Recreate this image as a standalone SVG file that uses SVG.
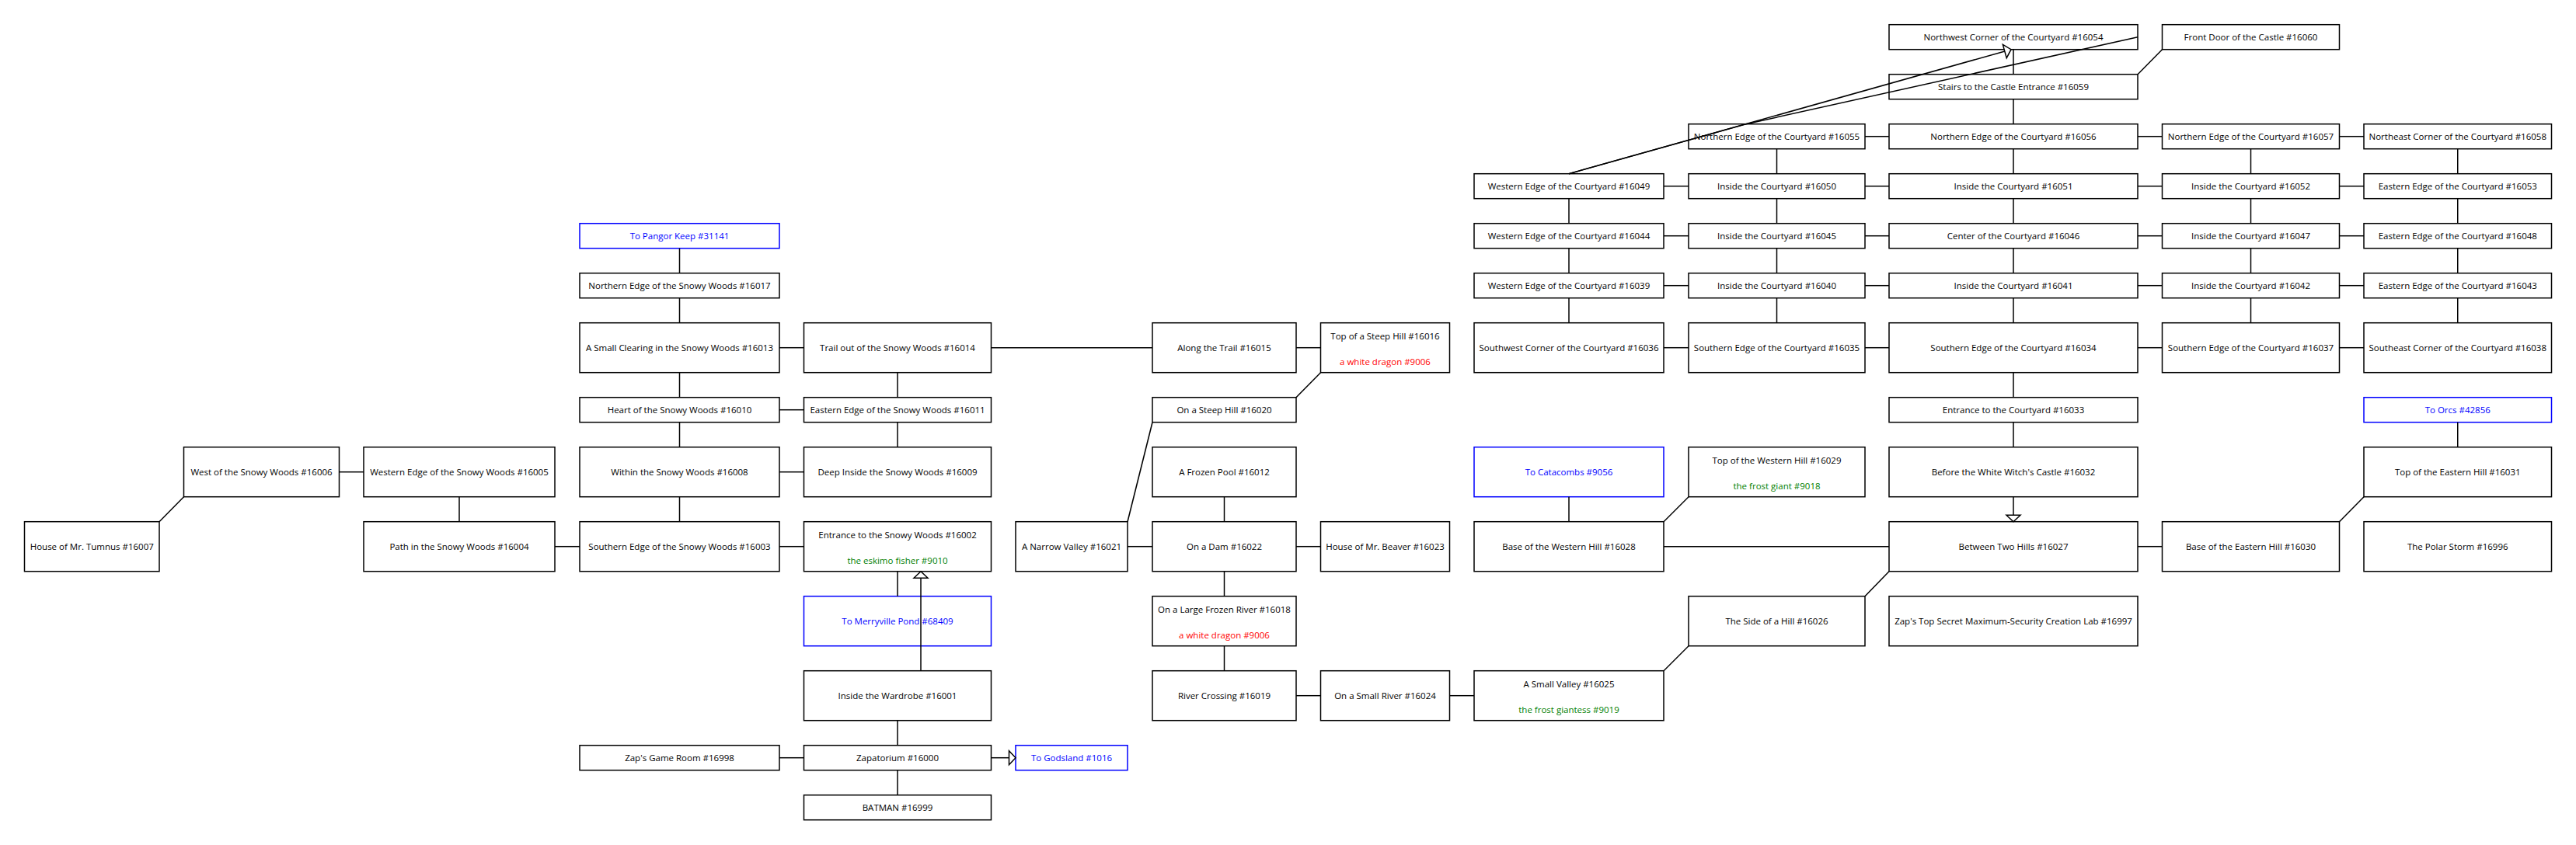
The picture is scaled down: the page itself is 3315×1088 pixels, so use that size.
<svg xmlns="http://www.w3.org/2000/svg" width="3315" height="1088" viewBox="0 0 3315 1088">
<defs>
<style>
rect{fill:#fff;stroke:#000;stroke-width:1.5}
.x rect{stroke:#0000ff}
text{font-family:"Open Sans","Noto Sans",sans-serif;font-size:11.5px;text-anchor:middle;fill:#000}
.x text{fill:#0000ff}
text.r{fill:#ff0000}
text.g{fill:#008000}
#edges line,#edges polyline{stroke:#000;stroke-width:1.5;fill:none}
</style>
<marker id="ah" markerUnits="userSpaceOnUse" markerWidth="12" markerHeight="22" refX="9.5" refY="10" orient="auto" overflow="visible">
<path d="M1,1 L9.5,10 L1,19 Z" fill="#fff" stroke="#000" stroke-width="1.5"/>
</marker>
</defs>
<rect x="0" y="0" width="3315" height="1088" style="stroke:none;fill:#fff"/>
<g id="n16007"><rect x="31.5" y="671.7" width="173.5" height="64"/><text x="118.25" y="707.7">House of Mr. Tumnus #16007</text></g>
<g id="n16006"><rect x="236.5" y="575.7" width="200" height="64"/><text x="336.5" y="611.7">West of the Snowy Woods #16006</text></g>
<g id="n16005"><rect x="468" y="575.7" width="246" height="64"/><text x="591" y="611.7">Western Edge of the Snowy Woods #16005</text></g>
<g id="n16004"><rect x="468" y="671.7" width="246" height="64"/><text x="591" y="707.7">Path in the Snowy Woods #16004</text></g>
<g id="x31141" class="x"><rect x="746" y="287.7" width="257" height="32"/><text x="874.5" y="307.7">To Pangor Keep #31141</text></g>
<g id="n16017"><rect x="746" y="351.7" width="257" height="32"/><text x="874.5" y="371.7">Northern Edge of the Snowy Woods #16017</text></g>
<g id="n16013"><rect x="746" y="415.7" width="257" height="64"/><text x="874.5" y="451.7">A Small Clearing in the Snowy Woods #16013</text></g>
<g id="n16010"><rect x="746" y="511.7" width="257" height="32"/><text x="874.5" y="531.7">Heart of the Snowy Woods #16010</text></g>
<g id="n16008"><rect x="746" y="575.7" width="257" height="64"/><text x="874.5" y="611.7">Within the Snowy Woods #16008</text></g>
<g id="n16003"><rect x="746" y="671.7" width="257" height="64"/><text x="874.5" y="707.7">Southern Edge of the Snowy Woods #16003</text></g>
<g id="n16998"><rect x="746" y="959.7" width="257" height="32"/><text x="874.5" y="979.7">Zap's Game Room #16998</text></g>
<g id="n16014"><rect x="1034.5" y="415.7" width="241" height="64"/><text x="1155" y="451.7">Trail out of the Snowy Woods #16014</text></g>
<g id="n16011"><rect x="1034.5" y="511.7" width="241" height="32"/><text x="1155" y="531.7">Eastern Edge of the Snowy Woods #16011</text></g>
<g id="n16009"><rect x="1034.5" y="575.7" width="241" height="64"/><text x="1155" y="611.7">Deep Inside the Snowy Woods #16009</text></g>
<g id="n16002"><rect x="1034.5" y="671.7" width="241" height="64"/><text x="1155" y="693.2">Entrance to the Snowy Woods #16002</text><text class="g" x="1155" y="726">the eskimo fisher #9010</text></g>
<g id="x68409" class="x"><rect x="1034.5" y="767.7" width="241" height="64"/><text x="1155" y="803.7">To Merryville Pond #68409</text></g>
<g id="n16001"><rect x="1034.5" y="863.7" width="241" height="64"/><text x="1155" y="899.7">Inside the Wardrobe #16001</text></g>
<g id="n16000"><rect x="1034.5" y="959.7" width="241" height="32"/><text x="1155" y="979.7">Zapatorium #16000</text></g>
<g id="n16999"><rect x="1034.5" y="1023.7" width="241" height="32"/><text x="1155" y="1043.7">BATMAN #16999</text></g>
<g id="n16021"><rect x="1307" y="671.7" width="144" height="64"/><text x="1379" y="707.7">A Narrow Valley #16021</text></g>
<g id="x1016" class="x"><rect x="1307" y="959.7" width="144" height="32"/><text x="1379" y="979.7">To Godsland #1016</text></g>
<g id="n16015"><rect x="1483" y="415.7" width="185" height="64"/><text x="1575.5" y="451.7">Along the Trail #16015</text></g>
<g id="n16020"><rect x="1483" y="511.7" width="185" height="32"/><text x="1575.5" y="531.7">On a Steep Hill #16020</text></g>
<g id="n16012"><rect x="1483" y="575.7" width="185" height="64"/><text x="1575.5" y="611.7">A Frozen Pool #16012</text></g>
<g id="n16022"><rect x="1483" y="671.7" width="185" height="64"/><text x="1575.5" y="707.7">On a Dam #16022</text></g>
<g id="n16018"><rect x="1483" y="767.7" width="185" height="64"/><text x="1575.5" y="789.2">On a Large Frozen River #16018</text><text class="r" x="1575.5" y="822">a white dragon #9006</text></g>
<g id="n16019"><rect x="1483" y="863.7" width="185" height="64"/><text x="1575.5" y="899.7">River Crossing #16019</text></g>
<g id="n16016"><rect x="1699.5" y="415.7" width="166" height="64"/><text x="1782.5" y="437.2">Top of a Steep Hill #16016</text><text class="r" x="1782.5" y="470">a white dragon #9006</text></g>
<g id="n16023"><rect x="1699.5" y="671.7" width="166" height="64"/><text x="1782.5" y="707.7">House of Mr. Beaver #16023</text></g>
<g id="n16024"><rect x="1699.5" y="863.7" width="166" height="64"/><text x="1782.5" y="899.7">On a Small River #16024</text></g>
<g id="n16049"><rect x="1897" y="223.7" width="244" height="32"/><text x="2019" y="243.7">Western Edge of the Courtyard #16049</text></g>
<g id="n16044"><rect x="1897" y="287.7" width="244" height="32"/><text x="2019" y="307.7">Western Edge of the Courtyard #16044</text></g>
<g id="n16039"><rect x="1897" y="351.7" width="244" height="32"/><text x="2019" y="371.7">Western Edge of the Courtyard #16039</text></g>
<g id="n16036"><rect x="1897" y="415.7" width="244" height="64"/><text x="2019" y="451.7">Southwest Corner of the Courtyard #16036</text></g>
<g id="x9056" class="x"><rect x="1897" y="575.7" width="244" height="64"/><text x="2019" y="611.7">To Catacombs #9056</text></g>
<g id="n16028"><rect x="1897" y="671.7" width="244" height="64"/><text x="2019" y="707.7">Base of the Western Hill #16028</text></g>
<g id="n16025"><rect x="1897" y="863.7" width="244" height="64"/><text x="2019" y="885.2">A Small Valley #16025</text><text class="g" x="2019" y="918">the frost giantess #9019</text></g>
<g id="n16055"><rect x="2173" y="159.7" width="227" height="32"/><text x="2286.5" y="179.7">Northern Edge of the Courtyard #16055</text></g>
<g id="n16050"><rect x="2173" y="223.7" width="227" height="32"/><text x="2286.5" y="243.7">Inside the Courtyard #16050</text></g>
<g id="n16045"><rect x="2173" y="287.7" width="227" height="32"/><text x="2286.5" y="307.7">Inside the Courtyard #16045</text></g>
<g id="n16040"><rect x="2173" y="351.7" width="227" height="32"/><text x="2286.5" y="371.7">Inside the Courtyard #16040</text></g>
<g id="n16035"><rect x="2173" y="415.7" width="227" height="64"/><text x="2286.5" y="451.7">Southern Edge of the Courtyard #16035</text></g>
<g id="n16029"><rect x="2173" y="575.7" width="227" height="64"/><text x="2286.5" y="597.2">Top of the Western Hill #16029</text><text class="g" x="2286.5" y="630">the frost giant #9018</text></g>
<g id="n16026"><rect x="2173" y="767.7" width="227" height="64"/><text x="2286.5" y="803.7">The Side of a Hill #16026</text></g>
<g id="n16054"><rect x="2431" y="31.7" width="320" height="32"/><text x="2591" y="51.7">Northwest Corner of the Courtyard #16054</text></g>
<g id="n16059"><rect x="2431" y="95.7" width="320" height="32"/><text x="2591" y="115.7">Stairs to the Castle Entrance #16059</text></g>
<g id="n16056"><rect x="2431" y="159.7" width="320" height="32"/><text x="2591" y="179.7">Northern Edge of the Courtyard #16056</text></g>
<g id="n16051"><rect x="2431" y="223.7" width="320" height="32"/><text x="2591" y="243.7">Inside the Courtyard #16051</text></g>
<g id="n16046"><rect x="2431" y="287.7" width="320" height="32"/><text x="2591" y="307.7">Center of the Courtyard #16046</text></g>
<g id="n16041"><rect x="2431" y="351.7" width="320" height="32"/><text x="2591" y="371.7">Inside the Courtyard #16041</text></g>
<g id="n16034"><rect x="2431" y="415.7" width="320" height="64"/><text x="2591" y="451.7">Southern Edge of the Courtyard #16034</text></g>
<g id="n16033"><rect x="2431" y="511.7" width="320" height="32"/><text x="2591" y="531.7">Entrance to the Courtyard #16033</text></g>
<g id="n16032"><rect x="2431" y="575.7" width="320" height="64"/><text x="2591" y="611.7">Before the White Witch's Castle #16032</text></g>
<g id="n16027"><rect x="2431" y="671.7" width="320" height="64"/><text x="2591" y="707.7">Between Two Hills #16027</text></g>
<g id="n16997"><rect x="2431" y="767.7" width="320" height="64"/><text x="2591" y="803.7">Zap's Top Secret Maximum-Security Creation Lab #16997</text></g>
<g id="n16060"><rect x="2782.5" y="31.7" width="228" height="32"/><text x="2896.5" y="51.7">Front Door of the Castle #16060</text></g>
<g id="n16057"><rect x="2782.5" y="159.7" width="228" height="32"/><text x="2896.5" y="179.7">Northern Edge of the Courtyard #16057</text></g>
<g id="n16052"><rect x="2782.5" y="223.7" width="228" height="32"/><text x="2896.5" y="243.7">Inside the Courtyard #16052</text></g>
<g id="n16047"><rect x="2782.5" y="287.7" width="228" height="32"/><text x="2896.5" y="307.7">Inside the Courtyard #16047</text></g>
<g id="n16042"><rect x="2782.5" y="351.7" width="228" height="32"/><text x="2896.5" y="371.7">Inside the Courtyard #16042</text></g>
<g id="n16037"><rect x="2782.5" y="415.7" width="228" height="64"/><text x="2896.5" y="451.7">Southern Edge of the Courtyard #16037</text></g>
<g id="n16030"><rect x="2782.5" y="671.7" width="228" height="64"/><text x="2896.5" y="707.7">Base of the Eastern Hill #16030</text></g>
<g id="n16058"><rect x="3042" y="159.7" width="241.5" height="32"/><text x="3162.75" y="179.7">Northeast Corner of the Courtyard #16058</text></g>
<g id="n16053"><rect x="3042" y="223.7" width="241.5" height="32"/><text x="3162.75" y="243.7">Eastern Edge of the Courtyard #16053</text></g>
<g id="n16048"><rect x="3042" y="287.7" width="241.5" height="32"/><text x="3162.75" y="307.7">Eastern Edge of the Courtyard #16048</text></g>
<g id="n16043"><rect x="3042" y="351.7" width="241.5" height="32"/><text x="3162.75" y="371.7">Eastern Edge of the Courtyard #16043</text></g>
<g id="n16038"><rect x="3042" y="415.7" width="241.5" height="64"/><text x="3162.75" y="451.7">Southeast Corner of the Courtyard #16038</text></g>
<g id="x42856" class="x"><rect x="3042" y="511.7" width="241.5" height="32"/><text x="3162.75" y="531.7">To Orcs #42856</text></g>
<g id="n16031"><rect x="3042" y="575.7" width="241.5" height="64"/><text x="3162.75" y="611.7">Top of the Eastern Hill #16031</text></g>
<g id="n16996"><rect x="3042" y="671.7" width="241.5" height="64"/><text x="3162.75" y="707.7">The Polar Storm #16996</text></g>
<g id="edges">
<line x1="591" y1="639.7" x2="591" y2="671.7"/>
<line x1="874.5" y1="319.7" x2="874.5" y2="351.7"/>
<line x1="874.5" y1="383.7" x2="874.5" y2="415.7"/>
<line x1="874.5" y1="479.7" x2="874.5" y2="511.7"/>
<line x1="874.5" y1="543.7" x2="874.5" y2="575.7"/>
<line x1="874.5" y1="639.7" x2="874.5" y2="671.7"/>
<line x1="1155" y1="479.7" x2="1155" y2="511.7"/>
<line x1="1155" y1="543.7" x2="1155" y2="575.7"/>
<line x1="1155" y1="735.7" x2="1155" y2="767.7"/>
<line x1="1155" y1="927.7" x2="1155" y2="959.7"/>
<line x1="1155" y1="991.7" x2="1155" y2="1023.7"/>
<line x1="1575.5" y1="639.7" x2="1575.5" y2="671.7"/>
<line x1="1575.5" y1="735.7" x2="1575.5" y2="767.7"/>
<line x1="1575.5" y1="831.7" x2="1575.5" y2="863.7"/>
<line x1="2019" y1="255.7" x2="2019" y2="287.7"/>
<line x1="2019" y1="319.7" x2="2019" y2="351.7"/>
<line x1="2019" y1="383.7" x2="2019" y2="415.7"/>
<line x1="2019" y1="639.7" x2="2019" y2="671.7"/>
<line x1="2286.5" y1="191.7" x2="2286.5" y2="223.7"/>
<line x1="2286.5" y1="255.7" x2="2286.5" y2="287.7"/>
<line x1="2286.5" y1="319.7" x2="2286.5" y2="351.7"/>
<line x1="2286.5" y1="383.7" x2="2286.5" y2="415.7"/>
<line x1="2591" y1="63.7" x2="2591" y2="95.7"/>
<line x1="2591" y1="127.7" x2="2591" y2="159.7"/>
<line x1="2591" y1="191.7" x2="2591" y2="223.7"/>
<line x1="2591" y1="255.7" x2="2591" y2="287.7"/>
<line x1="2591" y1="319.7" x2="2591" y2="351.7"/>
<line x1="2591" y1="383.7" x2="2591" y2="415.7"/>
<line x1="2591" y1="479.7" x2="2591" y2="511.7"/>
<line x1="2591" y1="543.7" x2="2591" y2="575.7"/>
<line x1="2896.5" y1="191.7" x2="2896.5" y2="223.7"/>
<line x1="2896.5" y1="255.7" x2="2896.5" y2="287.7"/>
<line x1="2896.5" y1="319.7" x2="2896.5" y2="351.7"/>
<line x1="2896.5" y1="383.7" x2="2896.5" y2="415.7"/>
<line x1="3162.75" y1="191.7" x2="3162.75" y2="223.7"/>
<line x1="3162.75" y1="255.7" x2="3162.75" y2="287.7"/>
<line x1="3162.75" y1="319.7" x2="3162.75" y2="351.7"/>
<line x1="3162.75" y1="383.7" x2="3162.75" y2="415.7"/>
<line x1="3162.75" y1="543.7" x2="3162.75" y2="575.7"/>
<line x1="436.5" y1="607.7" x2="468" y2="607.7"/>
<line x1="714" y1="703.7" x2="746" y2="703.7"/>
<line x1="1003" y1="447.7" x2="1034.5" y2="447.7"/>
<line x1="1003" y1="527.7" x2="1034.5" y2="527.7"/>
<line x1="1003" y1="607.7" x2="1034.5" y2="607.7"/>
<line x1="1003" y1="703.7" x2="1034.5" y2="703.7"/>
<line x1="1003" y1="975.7" x2="1034.5" y2="975.7"/>
<line x1="1275.5" y1="447.7" x2="1483" y2="447.7"/>
<line x1="1668" y1="447.7" x2="1699.5" y2="447.7"/>
<line x1="1451" y1="703.7" x2="1483" y2="703.7"/>
<line x1="1668" y1="703.7" x2="1699.5" y2="703.7"/>
<line x1="1668" y1="895.7" x2="1699.5" y2="895.7"/>
<line x1="1865.5" y1="895.7" x2="1897" y2="895.7"/>
<line x1="2400" y1="175.7" x2="2431" y2="175.7"/>
<line x1="2751" y1="175.7" x2="2782.5" y2="175.7"/>
<line x1="3010.5" y1="175.7" x2="3042" y2="175.7"/>
<line x1="2141" y1="239.7" x2="2173" y2="239.7"/>
<line x1="2400" y1="239.7" x2="2431" y2="239.7"/>
<line x1="2751" y1="239.7" x2="2782.5" y2="239.7"/>
<line x1="3010.5" y1="239.7" x2="3042" y2="239.7"/>
<line x1="2141" y1="303.7" x2="2173" y2="303.7"/>
<line x1="2400" y1="303.7" x2="2431" y2="303.7"/>
<line x1="2751" y1="303.7" x2="2782.5" y2="303.7"/>
<line x1="3010.5" y1="303.7" x2="3042" y2="303.7"/>
<line x1="2141" y1="367.7" x2="2173" y2="367.7"/>
<line x1="2400" y1="367.7" x2="2431" y2="367.7"/>
<line x1="2751" y1="367.7" x2="2782.5" y2="367.7"/>
<line x1="3010.5" y1="367.7" x2="3042" y2="367.7"/>
<line x1="2141" y1="447.7" x2="2173" y2="447.7"/>
<line x1="2400" y1="447.7" x2="2431" y2="447.7"/>
<line x1="2751" y1="447.7" x2="2782.5" y2="447.7"/>
<line x1="3010.5" y1="447.7" x2="3042" y2="447.7"/>
<line x1="2141" y1="703.7" x2="2431" y2="703.7"/>
<line x1="2751" y1="703.7" x2="2782.5" y2="703.7"/>
<line x1="205" y1="671.7" x2="236.5" y2="639.7"/>
<line x1="1699.5" y1="479.7" x2="1668" y2="511.7"/>
<line x1="1483" y1="543.7" x2="1451" y2="671.7"/>
<line x1="2141" y1="863.7" x2="2173" y2="831.7"/>
<line x1="2400" y1="767.7" x2="2431" y2="735.7"/>
<line x1="2173" y1="639.7" x2="2141" y2="671.7"/>
<line x1="3010.5" y1="671.7" x2="3042" y2="639.7"/>
<line x1="2751" y1="95.7" x2="2782.5" y2="63.7"/>
<polyline points="2019,223.7 2246,160 2751,47.7"/>
<line x1="2019" y1="223.7" x2="2588" y2="63.7" marker-end="url(#ah)"/>
<line x1="1185" y1="863.7" x2="1185" y2="735.7" marker-end="url(#ah)"/>
<line x1="1275.5" y1="975.7" x2="1307" y2="975.7" marker-end="url(#ah)"/>
<line x1="2591" y1="639.7" x2="2591" y2="671.7" marker-end="url(#ah)"/>
</g>
</svg>
